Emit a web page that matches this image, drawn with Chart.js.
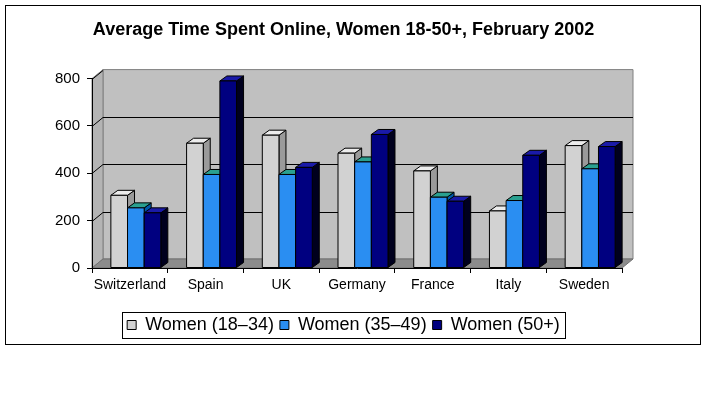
<!DOCTYPE html>
<html>
<head>
<meta charset="utf-8">
<script src="https://cdn.jsdelivr.net/npm/chart.js@4.4.1/dist/chart.umd.min.js"></script>
<style>
  html, body { margin: 0; padding: 0; background: #fff; }
  #frame { position: absolute; left: 5px; top: 5px; width: 694px; height: 338px; border: 1px solid #000; }
  canvas { display: block; }
</style>
</head>
<body>
<div id="frame"><canvas id="c" width="694" height="338"></canvas></div>
<script>
const titleText = 'Average Time Spent Online, Women 18-50+, February 2002';
const categories = ['Switzerland', 'Spain', 'UK', 'Germany', 'France', 'Italy', 'Sweden'];
const seriesLabels = ['Women (18\u201334)', 'Women (35\u201349)', 'Women (50+)'];
const women18to34 = [307, 527, 561, 485, 410, 241, 517];
const women35to49 = [254, 395, 395, 448, 299, 285, 419];
const women50plus = [233, 790, 425, 564, 282, 476, 513];
const yTicks = [0, 200, 400, 600, 800];

const frontColors = ['#d2d2d2', '#2a8ef2', '#000080'];
const sideColors  = ['#9a9a9a', '#0058a8', '#00001e'];
const topColors   = ['#ececec', '#2aa090', '#1a1aa8'];

const WALL_DX = 11, WALL_DY = -9;
const BAR_DX = 7, BAR_DY = -5;
const BAR_SHIFT = 6;

Chart.defaults.font.family = "'Liberation Sans', Arial, sans-serif";
Chart.defaults.color = '#000';

function poly(ctx, pts, fill, stroke) {
  ctx.beginPath();
  ctx.moveTo(pts[0][0], pts[0][1]);
  for (let i = 1; i < pts.length; i++) ctx.lineTo(pts[i][0], pts[i][1]);
  ctx.closePath();
  if (fill) { ctx.fillStyle = fill; ctx.fill(); }
  if (stroke) { ctx.strokeStyle = stroke; ctx.lineWidth = 1; ctx.stroke(); }
}

const threeD = {
  id: 'threeD',
  beforeDraw(chart) {
    const ctx = chart.ctx, a = chart.chartArea, ys = chart.scales.y;
    const L = a.left, R = a.right, T = a.top, B = a.bottom;
    ctx.save();
    poly(ctx, [[L + WALL_DX, T + WALL_DY], [R + WALL_DX, T + WALL_DY], [R + WALL_DX, B + WALL_DY], [L + WALL_DX, B + WALL_DY]], '#c0c0c0', '#808080');
    poly(ctx, [[L, T], [L + WALL_DX, T + WALL_DY], [L + WALL_DX, B + WALL_DY], [L, B]], '#b4b4b4', '#808080');
    poly(ctx, [[L, B], [R, B], [R + WALL_DX, B + WALL_DY], [L + WALL_DX, B + WALL_DY]], '#8c8c8c', '#707070');
    ctx.strokeStyle = '#000';
    ctx.lineWidth = 1;
    yTicks.forEach(v => {
      if (v === 0) return;
      const y = Math.round(ys.getPixelForValue(v)) + 0.5;
      ctx.beginPath();
      ctx.moveTo(L, y);
      ctx.lineTo(L + WALL_DX, y + WALL_DY);
      if (v !== yTicks[yTicks.length - 1]) ctx.lineTo(R + WALL_DX, y + WALL_DY);
      ctx.stroke();
    });
    ctx.restore();
  },
  beforeDatasetDraw() {
    // the flat bars are replaced by the 3D boxes drawn below
    return false;
  },
  afterDatasetsDraw(chart) {
    const ctx = chart.ctx;
    const metas = [0, 1, 2].map(i => chart.getDatasetMeta(i));
    ctx.save();
    ctx.lineJoin = 'miter';
    for (let i = 0; i < categories.length; i++) {
      for (let d = 0; d < metas.length; d++) {
        const el = metas[d].data[i];
        const p = el.getProps(['x', 'y', 'base', 'width'], true);
        const l = p.x - p.width / 2 + BAR_SHIFT, r = p.x + p.width / 2 + BAR_SHIFT;
        const y = p.y, b = p.base;
        poly(ctx, [[r, y], [r + BAR_DX, y + BAR_DY], [r + BAR_DX, b + BAR_DY], [r, b]], sideColors[d], '#000');
        poly(ctx, [[l, y], [l + BAR_DX, y + BAR_DY], [r + BAR_DX, y + BAR_DY], [r, y]], topColors[d], '#000');
        poly(ctx, [[l, y], [r, y], [r, b], [l, b]], frontColors[d], '#000');
      }
    }
    ctx.restore();
  },
  afterDraw(chart) {
    const hb = chart.legend && chart.legend.legendHitBoxes;
    if (!hb || !hb.length) return;
    const ctx = chart.ctx;
    let minX = Infinity, maxX = -Infinity;
    hb.forEach(h => { minX = Math.min(minX, h.left); maxX = Math.max(maxX, h.left + h.width); });
    const cy = hb[0].top + hb[0].height / 2;
    ctx.save();
    ctx.strokeStyle = '#000';
    ctx.lineWidth = 1;
    ctx.strokeRect(Math.round(minX - 5) + 0.5, Math.round(cy - 13) + 0.5, Math.round(maxX - minX + 10), 26);
    ctx.restore();
  }
};

new Chart(document.getElementById('c'), {
  type: 'bar',
  data: {
    labels: categories,
    datasets: [
      { label: seriesLabels[0], data: women18to34, backgroundColor: frontColors[0], borderColor: '#000', borderWidth: 1 },
      { label: seriesLabels[1], data: women35to49, backgroundColor: frontColors[1], borderColor: '#000', borderWidth: 1 },
      { label: seriesLabels[2], data: women50plus, backgroundColor: frontColors[2], borderColor: '#000', borderWidth: 1 }
    ]
  },
  plugins: [threeD],
  options: {
    responsive: false,
    animation: false,
    devicePixelRatio: 1,
    layout: { padding: { left: 0, right: 19, top: 0, bottom: 0 } },
    datasets: { bar: { categoryPercentage: 0.66, barPercentage: 1.0 } },
    plugins: {
      title: {
        display: true,
        text: titleText,
        color: '#000',
        font: { size: 18, weight: 'bold' },
        padding: { top: 13, bottom: 38 }
      },
      legend: {
        display: true,
        position: 'bottom',
        labels: { boxWidth: 9, boxHeight: 9, padding: 6, color: '#000', font: { size: 18 } }
      },
      tooltip: { enabled: false }
    },
    scales: {
      x: {
        grid: { drawOnChartArea: false, drawTicks: true, tickLength: 5, color: '#000', offset: true },
        border: { display: true, color: '#000' },
        ticks: { font: { size: 14 }, color: '#000', padding: 4, maxRotation: 0, autoSkip: false },
        afterFit(s) { s.height = 42; }
      },
      y: {
        min: 0, max: 800,
        afterBuildTicks(s) { s.ticks = yTicks.map(v => ({ value: v })); },
        grid: { drawOnChartArea: false, drawTicks: true, tickLength: 5, color: '#000' },
        border: { display: true, color: '#000' },
        ticks: { font: { size: 15 }, color: '#000', padding: 7 },
        afterFit(s) { s.width = 86; }
      },
      y2: {
        position: 'right',
        min: 0, max: 800,
        grid: { display: false },
        border: { display: false },
        ticks: { display: false },
        afterFit(s) { s.width = 59; }
      }
    }
  }
});
</script>
</body>
</html>
